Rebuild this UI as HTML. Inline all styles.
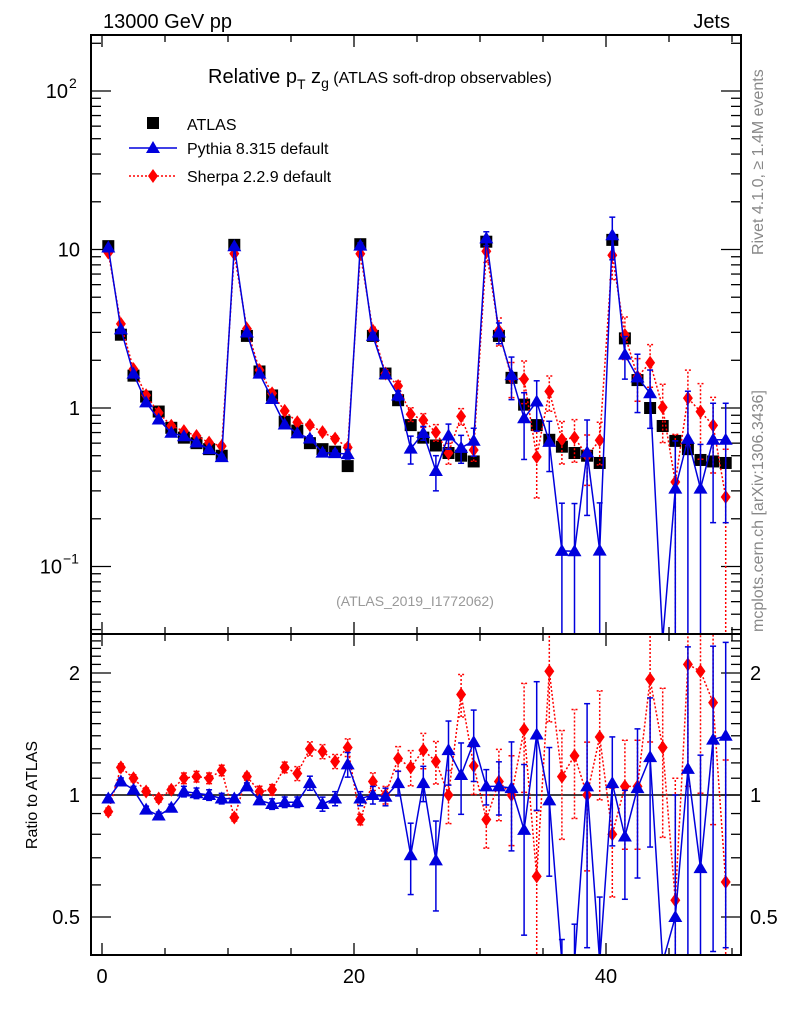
<!DOCTYPE html>
<html><head><meta charset="utf-8"><style>
html,body{margin:0;padding:0;background:#fff;width:786px;height:1024px;overflow:hidden;}
svg{display:block;font-family:"Liberation Sans",sans-serif;}
</style></head><body>
<svg id="chart" width="786" height="1024" viewBox="0 0 786 1024" xmlns="http://www.w3.org/2000/svg">
<defs>
<clipPath id="mainClip"><rect x="91" y="35" width="650" height="599"/></clipPath>
<clipPath id="ratioClip"><rect x="91" y="634" width="650" height="321"/></clipPath>
</defs>
<text x="103" y="28" font-size="20">13000 GeV pp</text>
<text x="730" y="28" font-size="20" text-anchor="end">Jets</text>
<text x="208" y="83" font-size="20">Relative p<tspan font-size="14" dy="6">T</tspan><tspan dy="-6"> z</tspan><tspan font-size="14" dy="5">g</tspan><tspan font-size="16" dy="-5"> (ATLAS soft-drop observables)</tspan></text>
<text transform="translate(763,255) rotate(-90)" font-size="16" fill="#888">Rivet 4.1.0, ≥ 1.4M events</text>
<text transform="translate(763,632) rotate(-90)" font-size="16" fill="#888">mcplots.cern.ch [arXiv:1306.3436]</text>
<text x="415" y="606" font-size="14" fill="#999" text-anchor="middle">(ATLAS_2019_I1772062)</text>
<text transform="translate(37,795) rotate(-90)" font-size="16" text-anchor="middle">Ratio to ATLAS</text>
<g id="legend">
<rect x="147" y="117" width="12" height="12" fill="#000"/>
<text x="187" y="130" font-size="16">ATLAS</text>
<line x1="129" y1="148" x2="177" y2="148" stroke="#0000dd" stroke-width="1.5"/>
<polygon points="153,141 160,153 146,153" fill="#0000dd"/>
<text x="187" y="154" font-size="16">Pythia 8.315 default</text>
<line x1="129" y1="176" x2="177" y2="176" stroke="red" stroke-width="1.5" stroke-dasharray="2,2"/>
<polygon points="153,169 158,176 153,183 148,176" fill="red"/>
<text x="187" y="182" font-size="16">Sherpa 2.2.9 default</text>
</g>
<g id="axes"></g>
<g id="mainMarks" clip-path="url(#mainClip)"></g>
<g id="ratioMarks" clip-path="url(#ratioClip)"></g>
<rect x="91" y="35" width="650" height="599" fill="none" stroke="#000" stroke-width="2"/>
<rect x="91" y="634" width="650" height="321" fill="none" stroke="#000" stroke-width="2"/>
</svg>
<script>
const atlasValues = [10.5,2.9,1.6,1.18,0.95,0.75,0.65,0.6,0.55,0.5, 10.7,2.85,1.7,1.2,0.82,0.72,0.6,0.55,0.53,0.43, 10.8,2.85,1.65,1.12,0.78,0.65,0.58,0.52,0.5,0.46, 11.2,2.85,1.55,1.05,0.78,0.63,0.57,0.52,0.5,0.45, 11.5,2.75,1.5,1.0,0.77,0.62,0.55,0.47,0.46,0.45];
const pythiaRatio = [0.98,1.08,1.03,0.92,0.89,0.93,1.02,1.01,1.0,0.98, 0.98,1.05,0.97,0.95,0.96,0.96,1.07,0.95,0.98,1.19, 0.98,1.0,0.99,1.07,0.71,1.07,0.69,1.29,1.12,1.35, 1.05,1.05,1.04,0.82,1.41,0.97,0.22,0.24,1.05,0.28, 1.07,0.79,1.04,1.24,0.01,0.5,1.16,0.66,1.37,1.40];
const sherpaRatio = [0.91,1.17,1.10,1.02,0.98,1.03,1.10,1.11,1.10,1.15, 0.88,1.11,1.02,1.03,1.17,1.13,1.30,1.28,1.21,1.31, 0.87,1.08,1.0,1.23,1.17,1.29,1.21,1.0,1.77,1.18, 0.87,1.08,1.0,1.45,0.63,2.02,1.11,1.25,1.0,1.39, 0.80,1.05,1.05,1.93,1.31,0.55,2.1,2.02,1.69,0.61];
const pythiaErr = [0.02,0.02,0.02,0.02,0.02,0.02,0.03,0.03,0.03,0.03, 0.02,0.02,0.02,0.03,0.03,0.03,0.04,0.04,0.04,0.07, 0.04,0.05,0.05,0.07,0.2,0.1,0.25,0.18,0.2,0.2, 0.1,0.15,0.3,0.45,0.35,0.35,1.0,1.0,0.6,1.0, 0.3,0.3,0.4,0.4,1.0,1.0,1.0,0.9,0.7,0.7];
const sherpaErr = [0.02,0.02,0.02,0.02,0.02,0.02,0.03,0.03,0.03,0.03, 0.02,0.02,0.03,0.03,0.03,0.04,0.04,0.04,0.04,0.05, 0.03,0.05,0.05,0.07,0.1,0.1,0.12,0.15,0.12,0.15, 0.15,0.2,0.25,0.3,0.45,0.25,0.3,0.3,0.35,0.3, 0.3,0.3,0.3,0.3,0.4,1.0,0.5,0.5,0.5,1.0];
const xTickLabels = ["0","20","40"];
const ratioTickLabels = ["0.5","1","2"];

const NS="http://www.w3.org/2000/svg";
function el(tag,attrs,parent){const e=document.createElementNS(NS,tag);for(const k in attrs)e.setAttribute(k,attrs[k]);parent.appendChild(e);return e;}
const clamp=(v,a,b)=>Math.max(a,Math.min(b,v));
const xs=v=>102+12.6*v;
const ys=v=>clamp(408-158.5*Math.log10(Math.max(v,1e-9)),30,640);
const yr=v=>clamp(795-405.3*Math.log10(Math.max(v,1e-9)),628,962);
const axes=document.getElementById('axes');
const mainG=document.getElementById('mainMarks');
const ratioG=document.getElementById('ratioMarks');

for(let v=0;v<=50;v+=5){
  const L=(v%20===0)?12:7;
  for(const yb of [634,955]){const t=el('line',{x1:xs(v),x2:xs(v),y1:yb,y2:yb-L,stroke:'#000','stroke-width':1.3},axes);
  
  }
  const t2=el('line',{x1:xs(v),x2:xs(v),y1:35,y2:35+L,stroke:'#000','stroke-width':1.3},axes);
  
  
  const t3=el('line',{x1:xs(v),x2:xs(v),y1:634,y2:634+L,stroke:'#000','stroke-width':1.3},axes);
  
  
}
xTickLabels.forEach(s=>{const t=el('text',{x:xs(+s),y:983,'font-size':20,'text-anchor':'middle'},axes);t.textContent=s;

});

for(let d=-2;d<=2;d++){for(let m=1;m<=9;m++){const v=m*Math.pow(10,d);const y=408-158.5*Math.log10(v);if(y<35||y>634)continue;const L=m===1?20:10;
 for(const [x1,x2] of [[91,91+L],[741,741-L]]){const t=el('line',{x1:x1,x2:x2,y1:y,y2:y,stroke:'#000','stroke-width':1.3},axes);
 
 }}}
[[2,"10","2",68],[1,"10","",80],[0,"1","",80],[-1,"10","−1",62]].forEach(([p,b,e,bx])=>{const t=el('text',{x:bx,y:ys(Math.pow(10,p))+7,'font-size':20,'text-anchor':'end'},axes);t.textContent=b;
 
 
 if(e){const s=el('text',{x:bx+1,y:ys(Math.pow(10,p))-3,'font-size':14,'text-anchor':'start'},axes);s.textContent=e;
 
 }});

const rt=[];for(let v=0.5;v<=0.95;v+=0.1)rt.push(+v.toFixed(1));for(let v=1;v<=2.45;v+=0.1)rt.push(+v.toFixed(1));
rt.forEach(v=>{const y=yr(v);const L=(v===0.5||v===1||v===2)?20:10;
 for(const [x1,x2] of [[91,91+L],[741,741-L]]){const t=el('line',{x1:x1,x2:x2,y1:y,y2:y,stroke:'#000','stroke-width':1.3},axes);
 
 }});
ratioTickLabels.forEach(s=>{for(const [x,a] of [[80,'end'],[750,'start']]){const t=el('text',{x:x,y:yr(+s)+7,'font-size':20,'text-anchor':a},axes);t.textContent=s;
 
 }});
const one=el('line',{x1:91,x2:741,y1:yr(1),y2:yr(1),stroke:'#000','stroke-width':1.5},ratioG);



function series(g,yfun,vals,errs,color,dash,marker,name){
  const pts=vals.map((v,i)=>xs(i+0.5)+','+yfun(v).toFixed(1)).join(' ');
  const pl=el('polyline',{points:pts,fill:'none',stroke:color,'stroke-width':1.5,'stroke-dasharray':dash},g);
  
  
  vals.forEach((v,i)=>{const x=xs(i+0.5);const lo=v*(1-errs[i]),hi=v*(1+errs[i]);
    const e=el('line',{x1:x,x2:x,y1:yfun(lo),y2:yfun(hi),stroke:color,'stroke-width':1.5,'stroke-dasharray':dash},g);
    
    
    for(const yy of [yfun(lo),yfun(hi)]){const c=el('line',{x1:x-3,x2:x+3,y1:yy,y2:yy,stroke:color,'stroke-width':1.5,'stroke-dasharray':dash},g);
    
    }
    const y=yfun(v);let m;
    if(marker==='tri')m=el('polygon',{points:`${x},${y-7} ${x+7},${y+5} ${x-7},${y+5}`,fill:color},g);
    else m=el('polygon',{points:`${x},${y-7} ${x+5},${y} ${x},${y+7} ${x-5},${y}`,fill:color},g);
    
    
  });
}
atlasValues.forEach((v,i)=>{const r=el('rect',{x:xs(i+0.5)-6,y:ys(v)-6,width:12,height:12,fill:'#000'},mainG);
 
 });
const pythiaMain=atlasValues.map((a,i)=>a*pythiaRatio[i]);
const sherpaMain=atlasValues.map((a,i)=>a*sherpaRatio[i]);
series(mainG,ys,sherpaMain,sherpaErr,'red','2,2','dia','sherpa');
series(mainG,ys,pythiaMain,pythiaErr,'#0000dd','','tri','pythia');
series(ratioG,yr,sherpaRatio,sherpaErr,'red','2,2','dia','sherpa-ratio');
series(ratioG,yr,pythiaRatio,pythiaErr,'#0000dd','','tri','pythia-ratio');
</script>
</body></html>
